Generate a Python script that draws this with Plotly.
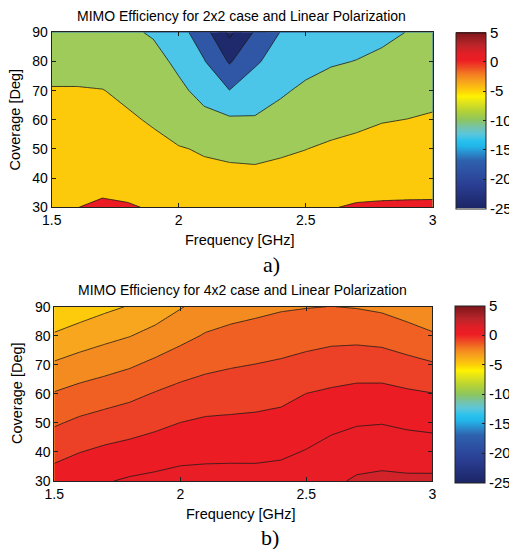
import plotly.graph_objects as go

# ---------------- data ----------------
freq = [1.5, 1.6, 1.7, 1.8, 1.9, 2.0, 2.1, 2.2, 2.3, 2.4, 2.5, 2.6, 2.7, 2.8, 2.9, 3.0]
coverage = [30, 40, 50, 60, 70, 80, 90]

# MIMO efficiency [dB], 2x2 case (rows = coverage, cols = frequency)
eff_2x2 = [
    [-1.2, -0.05, 0.6, 0.3, -0.3, -1.5, -2.2, -2.5, -2.5, -2.2, -1.5, -0.15, 0.35, 0.5, 0.55, 0.55],
    [-2.2, -1.6, -1.3, -1.5, -2.0, -3.0, -4.0, -4.3, -4.3, -3.9, -3.5, -2.4, -1.8, -1.7, -1.6, -1.5],
    [-3.0, -2.7, -2.8, -3.2, -4.0, -4.75, -5.35, -5.6, -5.8, -5.5, -5.05, -4.4, -4.0, -3.5, -3.3, -3.0],
    [-3.8, -3.7, -4.0, -4.5, -5.4, -7.0, -8.7, -9.3, -9.7, -8.5, -7.2, -6.4, -5.8, -5.2, -4.95, -4.6],
    [-4.75, -4.75, -4.9, -5.8, -6.9, -9.0, -11.5, -14.9, -11.8, -10.6, -9.2, -8.3, -7.9, -7.0, -6.6, -6.1],
    [-6.5, -6.5, -6.8, -7.4, -8.4, -11.0, -14.7, -20.5, -15.8, -12.5, -11.4, -10.4, -9.9, -9.1, -8.4, -7.8],
    [-8.0, -8.2, -8.5, -9.2, -10.5, -13.0, -18.0, -26.1, -19.5, -14.9, -13.0, -12.2, -11.6, -11.0, -9.9, -9.3],
]

# MIMO efficiency [dB], 4x2 case
eff_4x2 = [
    [0.48, 0.78, 0.93, 1.12, 1.23, 1.35, 1.36, 1.36, 1.34, 1.39, 1.58, 1.81, 2.13, 2.22, 2.18, 2.19],
    [-0.31, -0.02, 0.19, 0.34, 0.51, 0.68, 0.75, 0.77, 0.78, 0.85, 1.05, 1.35, 1.53, 1.60, 1.51, 1.47],
    [-1.11, -0.81, -0.60, -0.43, -0.22, 0.01, 0.15, 0.18, 0.22, 0.31, 0.53, 0.75, 0.93, 0.97, 0.84, 0.75],
    [-1.93, -1.66, -1.45, -1.23, -0.94, -0.69, -0.53, -0.44, -0.37, -0.26, 0.01, 0.15, 0.27, 0.29, 0.15, 0.03],
    [-2.87, -2.58, -2.35, -2.11, -1.78, -1.46, -1.22, -1.08, -0.98, -0.87, -0.69, -0.54, -0.46, -0.49, -0.70, -0.90],
    [-3.88, -3.55, -3.27, -3.03, -2.67, -2.28, -1.92, -1.74, -1.62, -1.48, -1.37, -1.26, -1.25, -1.34, -1.58, -1.86],
    [-4.90, -4.55, -4.22, -3.94, -3.57, -3.07, -2.62, -2.39, -2.25, -2.11, -2.04, -1.99, -2.05, -2.18, -2.46, -2.83],
]

levels_2x2 = dict(start=-25, end=0, size=5)
levels_4x2 = dict(start=-4, end=2, size=1)

x_ticks = [1.5, 2, 2.5, 3]
x_ticktext = ["1.5", "2", "2.5", "3"]
y_ticks = [30, 40, 50, 60, 70, 80, 90]
cbar_ticks = [-25, -20, -15, -10, -5, 0, 5]
cbar_ticktext = ["-25", "-20", "-15", "-10", "-5", "0", "5"]

title_a = "MIMO Efficiency for 2x2 case and Linear Polarization"
title_b = "MIMO Efficiency for 4x2 case and Linear Polarization"
x_title = "Frequency [GHz]"
y_title = "Coverage [Deg]"

# ---------------- styles ----------------
band_colors_2x2 = ["#1E2A6C", "#1E2A6C", "#2F57A6", "#4BC5E8", "#9FCB5A", "#FDCA0B", "#EC1C24"]
band_colors_4x2 = ["#FDCB0B", "#F8A61D", "#F48B20", "#F06023", "#EC4126", "#EC1C24", "#E91D25", "#D2232A"]

jet_print = [
    [0.00, '#1B2566'], [0.06, '#22307A'], [0.13, '#2A3E92'], [0.20, '#2D4FA2'],
    [0.27, '#2E62AE'], [0.31, '#2A8ACB'], [0.35, '#22B4E8'], [0.38, '#27C1EE'],
    [0.42, '#5BC6DC'], [0.46, '#76C3A8'], [0.50, '#8DC55F'], [0.55, '#B3D235'],
    [0.60, '#E1E31B'], [0.635, '#FFF200'], [0.67, '#FDCC0A'], [0.72, '#F7A21D'],
    [0.76, '#F37D21'], [0.80, '#EE4B24'], [0.84, '#ED1C24'], [0.88, '#E21F26'],
    [0.93, '#B7252A'], [1.00, '#7C1519'],
]


def step_scale(colors):
    n = len(colors) - 1
    sc = []
    for k, c in enumerate(colors):
        lo = max(0.0, (k - 0.5) / n)
        hi = min(1.0, (k + 0.5) / n)
        sc.append([lo, c])
        sc.append([hi, c])
    return sc


W, H = 509, 549
FONT = "Arial, Liberation Sans, Helvetica, sans-serif"


def px_x(p):
    return p / W


def px_y(p):
    return 1 - p / H


fig = go.Figure()

panels = [
    dict(z=eff_2x2, lev=levels_2x2, bands=band_colors_2x2, xa="x", ya="y",
         cb_x=456, cb_top=32.7, cb_bot=208.3),
    dict(z=eff_4x2, lev=levels_4x2, bands=band_colors_4x2, xa="x2", ya="y2",
         cb_x=455, cb_top=305.7, cb_bot=482.7),
]

for p in panels:
    # continuous colour scale (for colour bar), hidden beneath the filled contours
    fig.add_trace(go.Heatmap(
        x=freq, y=coverage, z=p["z"], zmin=-25, zmax=5, colorscale=jet_print,
        xaxis=p["xa"], yaxis=p["ya"], hoverinfo="skip",
        colorbar=dict(
            x=px_x(p["cb_x"]), xanchor="left", xref="paper",
            y=px_y((p["cb_top"] + p["cb_bot"]) / 2), yanchor="middle", yref="paper",
            thicknessmode="pixels", thickness=30,
            lenmode="pixels", len=p["cb_bot"] - p["cb_top"],
            xpad=0, ypad=0, outlinewidth=1, outlinecolor="#222",
            tickmode="array", tickvals=cbar_ticks, ticktext=cbar_ticktext,
            ticks="inside", ticklen=3, tickcolor="#222",
            tickfont=dict(family=FONT, size=15, color="black"),
        ),
    ))
    fig.add_trace(go.Contour(
        x=freq, y=coverage, z=p["z"], autocontour=False,
        contours=dict(start=p["lev"]["start"], end=p["lev"]["end"], size=p["lev"]["size"],
                      coloring="fill", showlines=True),
        colorscale=step_scale(p["bands"]), showscale=False,
        line=dict(color="#1a1a1a", width=0.8, smoothing=0),
        xaxis=p["xa"], yaxis=p["ya"], hoverinfo="skip",
    ))

axis_common = dict(
    showline=True, linecolor="#222", linewidth=1, mirror="ticks",
    ticks="inside", ticklen=4, tickcolor="#222", showgrid=False, zeroline=False,
    tickfont=dict(family=FONT, size=14, color="black"),
)

fig.update_layout(
    width=W, height=H, margin=dict(l=0, r=0, t=0, b=0, pad=0, autoexpand=False),
    paper_bgcolor="white", plot_bgcolor="white", showlegend=False,
    xaxis=dict(domain=[px_x(51.7), px_x(432.7)], range=[1.5, 3], anchor="y",
               tickmode="array", tickvals=x_ticks, ticktext=x_ticktext, **axis_common),
    yaxis=dict(domain=[px_y(207.3), px_y(32.3)], range=[30, 90], anchor="x",
               tickmode="array", tickvals=y_ticks, **axis_common),
    xaxis2=dict(domain=[px_x(54.3), px_x(432.3)], range=[1.5, 3], anchor="y2",
                tickmode="array", tickvals=x_ticks, ticktext=x_ticktext, **axis_common),
    yaxis2=dict(domain=[px_y(481.0), px_y(306.7)], range=[30, 90], anchor="x2",
                tickmode="array", tickvals=y_ticks, **axis_common),
)

annots = [
    dict(text=title_a, x=px_x(241), y=px_y(15.7), size=14, family=FONT),
    dict(text=title_b, x=px_x(242), y=px_y(290), size=14, family=FONT),
    dict(text=x_title, x=px_x(240), y=px_y(239.5), size=14.5, family=FONT),
    dict(text=x_title, x=px_x(241), y=px_y(513.5), size=14.5, family=FONT),
    dict(text="a)", x=px_x(271), y=px_y(264), size=22, family="Liberation Serif, Times New Roman, serif"),
    dict(text="b)", x=px_x(270), y=px_y(537), size=22, family="Liberation Serif, Times New Roman, serif"),
]
for a in annots:
    fig.add_annotation(text=a["text"], x=a["x"], y=a["y"], xref="paper", yref="paper",
                       xanchor="center", yanchor="middle", showarrow=False,
                       font=dict(family=a["family"], size=a["size"], color="black"))

for yc, xc in [(120, 14.5), (393.5, 16.5)]:
    fig.add_annotation(text=y_title, x=px_x(xc), y=px_y(yc), xref="paper", yref="paper",
                       xanchor="center", yanchor="middle", showarrow=False, textangle=-90,
                       font=dict(family=FONT, size=14.5, color="black"))

fig.write_html("out.html", config={"displayModeBar": False},
               post_script="document.body.style.margin='0px';document.body.style.overflow='hidden';")
